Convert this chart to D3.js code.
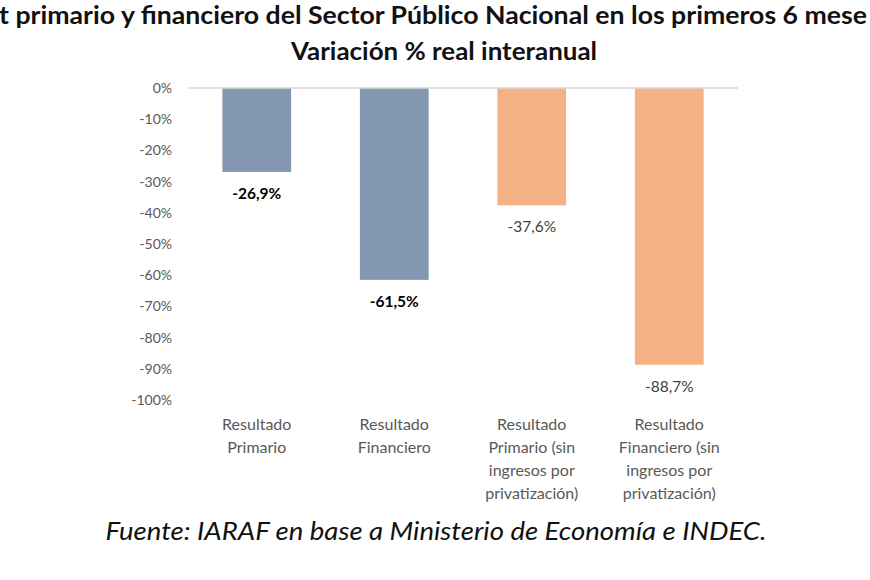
<!DOCTYPE html>
<html>
<head>
<meta charset="utf-8">
<script src="https://cdn.jsdelivr.net/npm/d3@7"></script>
<style>
  body { margin: 0; background: #fff; }
  text { font-family: Lato, "Open Sans", sans-serif; }
</style>
</head>
<body>
<div id="chart-container"></div>
<script>
// data
const categories = [
  ["Resultado", "Primario"],
  ["Resultado", "Financiero"],
  ["Resultado", "Primario (sin", "ingresos por", "privatización)"],
  ["Resultado", "Financiero (sin", "ingresos por", "privatización)"]
];
const values = [-26.9, -61.5, -37.6, -88.7];
const valueLabels = ["-26,9%", "-61,5%", "-37,6%", "-88,7%"];
const yTicks = [0, -10, -20, -30, -40, -50, -60, -70, -80, -90, -100];
const titleLines = [
  "t primario y financiero del Sector Público Nacional en los primeros 6 mese",
  "Variación % real interanual"
];
const sourceText = "Fuente: IARAF en base a Ministerio de Economía e INDEC.";

const svgWidth = 870;
const svgHeight = 580;
const margin = {top: 88, left: 188, right: 132, bottom: 180};
const w = svgWidth - margin.left - margin.right;
const h = svgHeight - margin.top - margin.bottom;

const colors = ["#8497b0", "#8497b0", "#f4b183", "#f4b183"];
const boldLabel = [true, true, false, false];

const svg = d3.select('#chart-container')
  .append('svg')
  .attr('width', svgWidth)
  .attr('height', svgHeight);

// title (first line is cut off at both edges in the source image)
svg.append('text')
  .attr('x', 433)
  .attr('y', 24)
  .attr('text-anchor', 'middle')
  .attr('font-size', 25)
  .attr('font-weight', 'bold')
  .attr('fill', '#111')
  .attr('textLength', 868)
  .attr('lengthAdjust', 'spacingAndGlyphs')
  .text(titleLines[0]);

svg.append('text')
  .attr('x', 444)
  .attr('y', 60)
  .attr('text-anchor', 'middle')
  .attr('font-size', 25)
  .attr('font-weight', 'bold')
  .attr('fill', '#111')
  .attr('textLength', 306)
  .attr('lengthAdjust', 'spacingAndGlyphs')
  .text(titleLines[1]);

const chart = svg.append('g')
  .attr('transform', 'translate(' + margin.left + ',' + margin.top + ')');

const x = d3.scaleBand()
  .domain(d3.range(categories.length))
  .range([0, w])
  .paddingInner(0.5)
  .paddingOuter(0.25);

const y = d3.scaleLinear()
  .domain([-100, 0])
  .range([312, 0]);

// y axis labels only
const yAxis = chart.append('g')
  .call(d3.axisLeft(y).tickValues(yTicks).tickFormat(d => d + '%').tickSize(0).tickPadding(16));
yAxis.select('.domain').remove();
yAxis.selectAll('text')
  .attr('font-family', 'Lato, "Open Sans", sans-serif')
  .attr('font-size', 14)
  .attr('fill', '#595959');

// bars
chart.selectAll('.bar')
  .data(values)
  .enter()
  .append('rect')
  .attr('class', 'bar')
  .attr('x', (d, i) => x(i))
  .attr('y', y(0))
  .attr('width', x.bandwidth())
  .attr('height', d => y(d) - y(0))
  .attr('fill', (d, i) => colors[i]);

// zero line
chart.append('line')
  .attr('x1', 0)
  .attr('x2', w)
  .attr('y1', y(0))
  .attr('y2', y(0))
  .attr('stroke', '#d9d9d9')
  .attr('stroke-width', 1.5);

// value labels
chart.selectAll('.val')
  .data(values)
  .enter()
  .append('text')
  .attr('class', 'val')
  .attr('x', (d, i) => x(i) + x.bandwidth() / 2)
  .attr('y', d => y(d) + 27)
  .attr('text-anchor', 'middle')
  .attr('font-size', 15.5)
  .attr('font-weight', (d, i) => boldLabel[i] ? 'bold' : 'normal')
  .attr('fill', (d, i) => boldLabel[i] ? '#000' : '#404040')
  .text((d, i) => valueLabels[i]);

// category labels
const cat = chart.selectAll('.cat')
  .data(categories)
  .enter()
  .append('text')
  .attr('class', 'cat')
  .attr('text-anchor', 'middle')
  .attr('font-size', 16)
  .attr('fill', '#595959')
  .attr('transform', (d, i) => 'translate(' + (x(i) + x.bandwidth() / 2) + ',' + (y(-100) + 30) + ')');

cat.selectAll('tspan')
  .data(d => d)
  .enter()
  .append('tspan')
  .attr('x', 0)
  .attr('y', (d, i) => i * 23)
  .text(d => d);

// source
svg.append('text')
  .attr('x', 436)
  .attr('y', 540)
  .attr('text-anchor', 'middle')
  .attr('font-size', 25)
  .attr('font-style', 'italic')
  .attr('fill', '#111')
  .attr('textLength', 661)
  .attr('lengthAdjust', 'spacingAndGlyphs')
  .text(sourceText);
</script>
</body>
</html>
